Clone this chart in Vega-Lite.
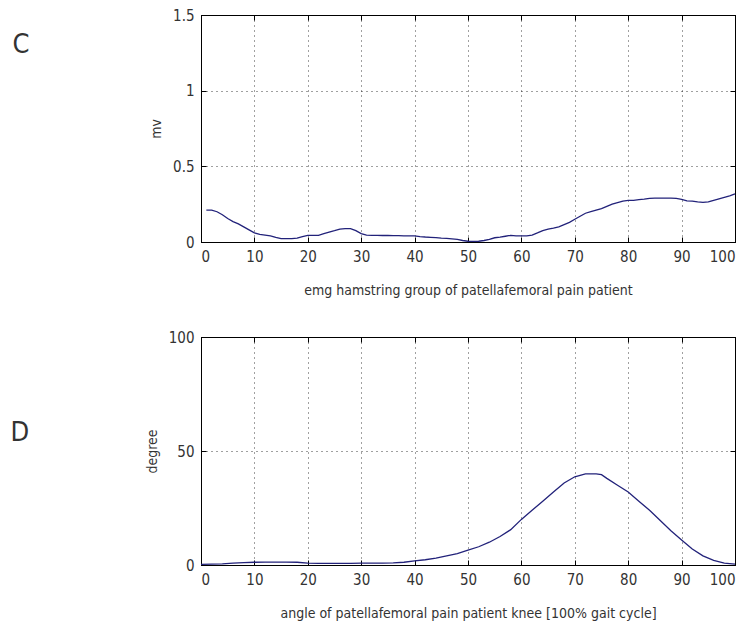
{
  "$schema": "https://vega.github.io/schema/vega-lite/v6.json",
  "padding": {"left": 10, "top": 7, "right": 0, "bottom": 0},
  "background": "white",
  "spacing": 31,
  "config": {
    "font": "Liberation Sans",
    "view": {"stroke": "#000", "strokeWidth": 1},
    "axis": {
      "labelFont": "DejaVu Sans Condensed, Liberation Sans, sans-serif",
      "labelFontSize": 15,
      "labelColor": "#333",
      "titleFont": "DejaVu Sans Condensed, Liberation Sans, sans-serif",
      "titleFontSize": 14,
      "titleFontWeight": "normal",
      "titleColor": "#333",
      "domainColor": "#000",
      "tickColor": "#000",
      "tickSize": -5,
      "labelPadding": 12,
      "gridColor": "#000",
      "gridDash": [1, 4],
      "gridOpacity": 0.75
    }
  },
  "vconcat": [
    {
      "width": 534,
      "height": 227,
      "title": {"text": "C", "orient": "left", "angle": 0, "anchor": "middle", "align": "left", "dy": -97, "offset": 120, "fontSize": 27, "font": "DejaVu Sans Condensed, DejaVu Sans", "fontWeight": "normal", "color": "#333"},
      "data": {"values": [
        {"pct":1,"mv":0.21},{"pct":2,"mv":0.21},{"pct":3,"mv":0.2},{"pct":4,"mv":0.18},{"pct":5,"mv":0.155},
        {"pct":6,"mv":0.135},{"pct":7,"mv":0.12},{"pct":8,"mv":0.1},{"pct":9,"mv":0.08},{"pct":10,"mv":0.06},
        {"pct":11,"mv":0.05},{"pct":12,"mv":0.045},{"pct":13,"mv":0.04},{"pct":14,"mv":0.03},{"pct":15,"mv":0.022},
        {"pct":16,"mv":0.022},{"pct":17,"mv":0.022},{"pct":18,"mv":0.026},{"pct":19,"mv":0.035},{"pct":20,"mv":0.044},
        {"pct":21,"mv":0.044},{"pct":22,"mv":0.044},{"pct":23,"mv":0.055},{"pct":24,"mv":0.066},{"pct":25,"mv":0.075},
        {"pct":26,"mv":0.085},{"pct":27,"mv":0.088},{"pct":28,"mv":0.088},{"pct":29,"mv":0.075},{"pct":30,"mv":0.055},
        {"pct":31,"mv":0.046},{"pct":32,"mv":0.044},{"pct":33,"mv":0.044},{"pct":34,"mv":0.043},{"pct":35,"mv":0.043},
        {"pct":36,"mv":0.042},{"pct":37,"mv":0.042},{"pct":38,"mv":0.041},{"pct":39,"mv":0.04},{"pct":40,"mv":0.04},
        {"pct":41,"mv":0.036},{"pct":42,"mv":0.033},{"pct":43,"mv":0.031},{"pct":44,"mv":0.029},{"pct":45,"mv":0.026},
        {"pct":46,"mv":0.024},{"pct":47,"mv":0.021},{"pct":48,"mv":0.018},{"pct":49,"mv":0.01},{"pct":50,"mv":0.005},
        {"pct":51,"mv":0.004},{"pct":52,"mv":0.005},{"pct":53,"mv":0.01},{"pct":54,"mv":0.018},{"pct":55,"mv":0.028},
        {"pct":56,"mv":0.032},{"pct":57,"mv":0.038},{"pct":58,"mv":0.044},{"pct":59,"mv":0.04},{"pct":60,"mv":0.04},
        {"pct":61,"mv":0.041},{"pct":62,"mv":0.046},{"pct":63,"mv":0.06},{"pct":64,"mv":0.075},{"pct":65,"mv":0.085},
        {"pct":66,"mv":0.092},{"pct":67,"mv":0.1},{"pct":68,"mv":0.115},{"pct":69,"mv":0.13},{"pct":70,"mv":0.15},
        {"pct":71,"mv":0.17},{"pct":72,"mv":0.19},{"pct":73,"mv":0.2},{"pct":74,"mv":0.21},{"pct":75,"mv":0.22},
        {"pct":76,"mv":0.235},{"pct":77,"mv":0.25},{"pct":78,"mv":0.26},{"pct":79,"mv":0.27},{"pct":80,"mv":0.275},
        {"pct":81,"mv":0.275},{"pct":82,"mv":0.28},{"pct":83,"mv":0.283},{"pct":84,"mv":0.288},{"pct":85,"mv":0.29},
        {"pct":86,"mv":0.29},{"pct":87,"mv":0.29},{"pct":88,"mv":0.29},{"pct":89,"mv":0.288},{"pct":90,"mv":0.282},
        {"pct":91,"mv":0.272},{"pct":92,"mv":0.27},{"pct":93,"mv":0.265},{"pct":94,"mv":0.262},{"pct":95,"mv":0.265},
        {"pct":96,"mv":0.275},{"pct":97,"mv":0.285},{"pct":98,"mv":0.295},{"pct":99,"mv":0.305},{"pct":100,"mv":0.318}
      ]},
      "layer": [
        {
          "mark": {"type": "line", "color": "#22227a", "strokeWidth": 1.3},
          "encoding": {
            "x": {"field": "pct", "type": "quantitative", "scale": {"domain": [0, 100], "nice": false},
              "axis": {"values": [0,10,20,30,40,50,60,70,80,90,100], "grid": true, "title": "emg hamstring group of patellafemoral pain patient", "titlePadding": 19}},
            "y": {"field": "mv", "type": "quantitative", "scale": {"domain": [0, 1.5], "nice": false},
              "axis": {"values": [0, 0.5, 1, 1.5], "format": "~g", "grid": true, "title": "mv", "titlePadding": 9}}
          }
        },
        {
          "mark": {"type": "line", "opacity": 0},
          "encoding": {
            "x": {"field": "pct", "type": "quantitative", "scale": {"domain": [0, 100], "nice": false},
              "axis": {"orient": "top", "values": [0,10,20,30,40,50,60,70,80,90,100], "labels": false, "grid": false, "title": null}},
            "y": {"field": "mv", "type": "quantitative", "scale": {"domain": [0, 1.5], "nice": false},
              "axis": {"orient": "right", "values": [0, 0.5, 1, 1.5], "labels": false, "grid": false, "title": null}}
          }
        }
      ],
      "resolve": {"axis": {"x": "independent", "y": "independent"}}
    },
    {
      "width": 534,
      "height": 228,
      "title": {"text": "D", "orient": "left", "angle": 0, "anchor": "middle", "align": "left", "dy": -31, "offset": 116, "fontSize": 27, "font": "DejaVu Sans Condensed, DejaVu Sans", "fontWeight": "normal", "color": "#333"},
      "data": {"values": [
        {"pct":0,"deg":0.3},{"pct":2,"deg":0.4},{"pct":4,"deg":0.5},{"pct":6,"deg":0.8},{"pct":8,"deg":1.0},
        {"pct":10,"deg":1.2},{"pct":12,"deg":1.3},{"pct":14,"deg":1.3},{"pct":16,"deg":1.3},{"pct":18,"deg":1.2},
        {"pct":20,"deg":0.8},{"pct":22,"deg":0.7},{"pct":24,"deg":0.7},{"pct":26,"deg":0.7},{"pct":28,"deg":0.7},
        {"pct":30,"deg":0.8},{"pct":32,"deg":0.8},{"pct":34,"deg":0.8},{"pct":36,"deg":0.9},{"pct":38,"deg":1.2},
        {"pct":40,"deg":1.8},{"pct":42,"deg":2.3},{"pct":44,"deg":3.0},{"pct":46,"deg":4.0},{"pct":48,"deg":5.0},
        {"pct":50,"deg":6.5},{"pct":52,"deg":8.0},{"pct":54,"deg":10.0},{"pct":56,"deg":12.5},{"pct":58,"deg":15.5},
        {"pct":60,"deg":20.0},{"pct":62,"deg":24.0},{"pct":64,"deg":28.0},{"pct":66,"deg":32.0},{"pct":68,"deg":36.0},
        {"pct":70,"deg":38.7},{"pct":72,"deg":40.0},{"pct":74,"deg":40.0},{"pct":75,"deg":39.6},{"pct":76,"deg":38.0},
        {"pct":78,"deg":35.0},{"pct":80,"deg":32.0},{"pct":82,"deg":28.0},{"pct":84,"deg":24.0},{"pct":86,"deg":19.5},
        {"pct":88,"deg":15.0},{"pct":90,"deg":11.0},{"pct":92,"deg":7.0},{"pct":94,"deg":4.0},{"pct":96,"deg":2.0},
        {"pct":98,"deg":0.8},{"pct":100,"deg":0.4}
      ]},
      "layer": [
        {
          "mark": {"type": "line", "color": "#22227a", "strokeWidth": 1.3},
          "encoding": {
            "x": {"field": "pct", "type": "quantitative", "scale": {"domain": [0, 100], "nice": false},
              "axis": {"values": [0,10,20,30,40,50,60,70,80,90,100], "grid": true, "title": "angle of patellafemoral pain patient knee [100% gait cycle]", "titlePadding": 19}},
            "y": {"field": "deg", "type": "quantitative", "scale": {"domain": [0, 100], "nice": false},
              "axis": {"values": [0, 50, 100], "grid": true, "title": "degree", "titlePadding": 9}}
          }
        },
        {
          "mark": {"type": "line", "opacity": 0},
          "encoding": {
            "x": {"field": "pct", "type": "quantitative", "scale": {"domain": [0, 100], "nice": false},
              "axis": {"orient": "top", "values": [0,10,20,30,40,50,60,70,80,90,100], "labels": false, "grid": false, "title": null}},
            "y": {"field": "deg", "type": "quantitative", "scale": {"domain": [0, 100], "nice": false},
              "axis": {"orient": "right", "values": [0, 50, 100], "labels": false, "grid": false, "title": null}}
          }
        }
      ],
      "resolve": {"axis": {"x": "independent", "y": "independent"}}
    }
  ]
}
